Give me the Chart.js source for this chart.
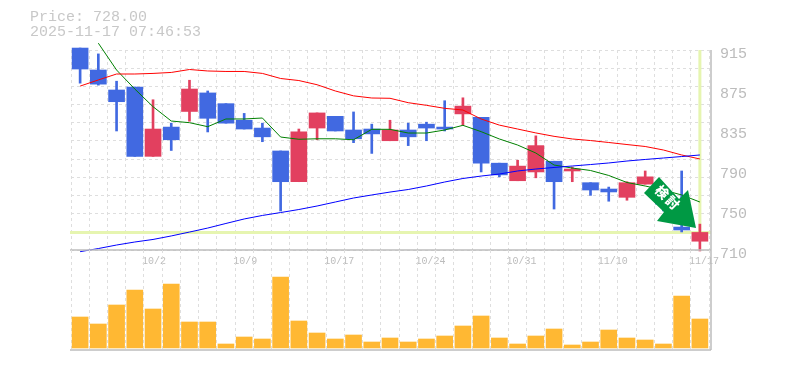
<!DOCTYPE html>
<html>
<head>
<meta charset="utf-8">
<script src="https://cdn.jsdelivr.net/npm/chart.js@4/dist/chart.umd.min.js"></script>
<style>
    html, body { margin: 0; padding: 0; background: #fff; overflow: hidden; }
    #wrap { position: relative; width: 785px; height: 370px; }
    #priceChart, #volumeChart { position: absolute; left: 0; }
    #priceChart { top: 0; }
    #volumeChart { top: 240px; }
    #header {
        position: absolute; left: 30px; top: 10px;
        font: 15px/15px "Liberation Mono", monospace; color: #c8c8c8; white-space: pre;
    }
    #arrow { position: absolute; left: 0; top: 0; }
</style>
</head>
<body>
<div id="wrap">
    <canvas id="priceChart" width="785" height="275"></canvas>
    <canvas id="volumeChart" width="785" height="120"></canvas>
    <div id="header">Price: 728.00
2025-11-17 07:46:53</div>
    <svg id="arrow" width="785" height="370">
        <polygon points="659,177 644,193 664,212 657,221 696,228 688,190 679,199" fill="#009944"/>
        <text x="667" y="199" transform="rotate(45 667 199)" text-anchor="middle" dominant-baseline="middle"
              font-family="Noto Sans CJK JP" font-weight="900" font-size="13" letter-spacing="2" fill="#fff">検討</text>
    </svg>
</div>
<script>
const categories = [
    '9/26', '9/29', '9/30', '10/1', '10/2', '10/3', '10/6', '10/7', '10/8', '10/9',
    '10/10', '10/14', '10/15', '10/16', '10/17', '10/20', '10/21', '10/22', '10/23', '10/24',
    '10/27', '10/28', '10/29', '10/30', '10/31', '11/4', '11/5', '11/6', '11/7', '11/10',
    '11/11', '11/12', '11/13', '11/14', '11/17'
];
const opens = [917, 894.5, 874, 877, 806, 836, 852, 871, 860, 843, 835, 811.5, 780, 835, 847, 833, 834, 822, 833, 839, 836, 849.5, 846, 799, 781, 790, 801, 791, 779, 772.5, 764, 777.5, 770, 733.5, 719];
const closes = [895.5, 880, 862, 806, 834, 823, 875, 845, 840, 834, 826, 780, 831, 850.5, 832, 824, 829, 833, 826, 835, 834, 857.5, 799, 787, 796, 817, 780, 793, 771.5, 769.5, 779, 785, 757, 730.5, 728];
const highs = [917, 911, 883, 877, 864, 840, 884, 873, 860, 850, 840, 811.5, 834, 850.5, 847, 851.5, 839, 843, 840, 841, 863, 866, 846, 799, 802, 827, 801, 795, 779, 774.5, 780, 791, 772, 791, 736.5];
const lows = [881, 879, 832, 806, 806, 812, 842, 831, 840, 834, 821, 750, 780, 823, 832, 820, 809, 822, 817, 822, 832, 838, 790, 785, 781, 784, 752, 780, 766, 760, 761, 777.5, 750, 728.5, 709];
const maShort = [null, 922, 894.5, 875, 856.9, 842.2, 840.5, 836.4, 844.3, 844.3, 845.3, 825.8, 823.5, 824, 824, 823, 833.7, 833.7, 829.9, 829.9, 833, 837.8, 831.3, 823.8, 817.6, 809.4, 797.1, 794, 791.5, 786.4, 779.2, 775.6, 771.5, 766.4, 759.2];
const maMid = [878, 884.3, 890.4, 890.4, 891, 892, 895, 893.5, 893, 893, 891, 885.8, 883.7, 879.4, 873, 868, 865.8, 865.5, 861, 858.3, 855.2, 853.5, 844.3, 838, 834, 830, 826.5, 823.8, 822.2, 820.2, 818.1, 816.1, 812.5, 807.4, 803.3];
const maLong = [708.3, 711.5, 715.1, 718.2, 720.8, 724.4, 728.4, 732.5, 737.2, 741.8, 745.4, 748.4, 751.5, 755.1, 759.2, 763.3, 766.4, 769.4, 772, 775.6, 779.7, 783.3, 785.8, 787.9, 791, 793, 794.6, 796.1, 797.6, 799.2, 801.2, 802.8, 804.3, 805.8, 807.4];
const volumes = [31, 24, 43, 58, 39, 64, 26, 26, 4, 11, 9, 71, 27, 15, 9, 13, 6, 10, 6, 9, 12, 22, 32, 10, 4, 12, 19, 3, 6, 18, 10, 8, 4, 52, 29];
const lastPrice = 728;
const priceTicks = [915, 874, 833, 792, 751, 710];
const gridTicks = [915, 896.4, 877.7, 859.1, 840.5, 821.8, 803.2, 784.5, 765.9, 747.3, 728.6, 710];
const xLabels = ['10/2', '10/9', '10/17', '10/24', '10/31', '11/10', '11/17'];

const BLUE = '#4169e1';
const RED = '#e2405f';
const GRID = '#dedede';
const AXIS = '#bdbdbd';
const TEXT = '#bcbcbc';
const HAIR = '#e6f5b0';
const MONO = '"Liberation Mono", monospace';

const candleColors = opens.map((o, i) => (closes[i] >= o ? RED : BLUE));

// solid axis lines: the frame sits a little outside the last dashed grid line
const panelFrame = {
    id: 'panelFrame',
    afterDatasetsDraw(chart) {
        const { ctx, chartArea: a } = chart;
        ctx.save();
        ctx.strokeStyle = AXIS;
        ctx.lineWidth = 1.5;
        ctx.beginPath();
        ctx.moveTo(a.left - 1, a.bottom);
        ctx.lineTo(a.right + 2, a.bottom);
        ctx.moveTo(a.right + 2, a.top);
        ctx.lineTo(a.right + 2, a.bottom);
        ctx.stroke();
        ctx.restore();
    }
};

// crosshair on the last candle, under the marks
const crosshair = {
    id: 'crosshair',
    beforeDatasetsDraw(chart) {
        const { ctx, chartArea: a, scales } = chart;
        const x = scales.x.getPixelForValue(categories.length - 1);
        const y = scales.y.getPixelForValue(lastPrice);
        ctx.save();
        ctx.strokeStyle = HAIR;
        ctx.lineWidth = 3;
        ctx.beginPath();
        ctx.moveTo(a.left - 1, y);
        ctx.lineTo(a.right + 2, y);
        ctx.moveTo(x, a.top);
        ctx.lineTo(x, y);
        ctx.stroke();
        ctx.restore();
    }
};

function lineSeries(data, color, order) {
    return {
        type: 'line', data, borderColor: color, borderWidth: 1,
        pointRadius: 0, tension: 0, order, clip: false
    };
}

function xGrid() {
    return { offset: true, color: GRID, lineWidth: 1, drawTicks: false };
}

new Chart(document.getElementById('priceChart'), {
    type: 'bar',
    data: {
        labels: categories,
        datasets: [
            lineSeries(maLong, '#0000ff', 1),
            lineSeries(maMid, '#ff0000', 1),
            lineSeries(maShort, '#008000', 1),
            {
                // bodies
                data: opens.map((o, i) => [o, closes[i]]),
                backgroundColor: candleColors,
                barThickness: 16, grouped: false, order: 2, clip: false
            },
            {
                // wicks
                data: lows.map((l, i) => [l, highs[i]]),
                backgroundColor: candleColors,
                barThickness: 2, grouped: false, order: 3, clip: false
            }
        ]
    },
    options: {
        responsive: false,
        animation: false,
        layout: { padding: { left: 71, right: 0, top: 50, bottom: 0 } },
        plugins: { legend: { display: false }, tooltip: { enabled: false } },
        scales: {
            x: {
                afterFit(axis) { axis.height = 25; },
                grid: xGrid(),
                border: { display: false, dash: [3, 3] },
                ticks: {
                    autoSkip: false, maxRotation: 0, padding: 5, color: TEXT,
                    align: 'start', labelOffset: -11,
                    font: { family: MONO, size: 10 },
                    callback(v) {
                        const label = categories[v];
                        return xLabels.includes(label) ? label : '';
                    }
                }
            },
            y: {
                position: 'right',
                min: 710,
                max: 915,
                afterBuildTicks(axis) {
                    axis.ticks = [...new Set([...gridTicks, ...priceTicks])].map(value => ({ value }));
                },
                afterFit(axis) { axis.width = 76; },
                grid: {
                    drawTicks: false,
                    color: c => (gridTicks.includes(c.tick.value) ? GRID : 'transparent')
                },
                border: { display: false, dash: [3, 3] },
                ticks: {
                    autoSkip: false, padding: 11, labelOffset: 4, color: TEXT,
                    font: { family: MONO, size: 15 },
                    callback: v => (priceTicks.includes(v) ? Math.round(v / 5) * 5 : '')
                }
            }
        }
    },
    plugins: [crosshair, panelFrame]
});

new Chart(document.getElementById('volumeChart'), {
    type: 'bar',
    data: {
        labels: categories,
        datasets: [{ data: volumes, backgroundColor: '#ffb833', barThickness: 16 }]
    },
    options: {
        responsive: false,
        animation: false,
        layout: { padding: { left: 71, right: 76, top: 10, bottom: 10 } },
        plugins: { legend: { display: false }, tooltip: { enabled: false } },
        scales: {
            x: {
                grid: xGrid(),
                border: { display: false, dash: [3, 3] },
                ticks: { display: false }
            },
            y: {
                display: false,
                min: -2,
                max: 98
            }
        }
    },
    plugins: [panelFrame]
});
</script>
</body>
</html>
